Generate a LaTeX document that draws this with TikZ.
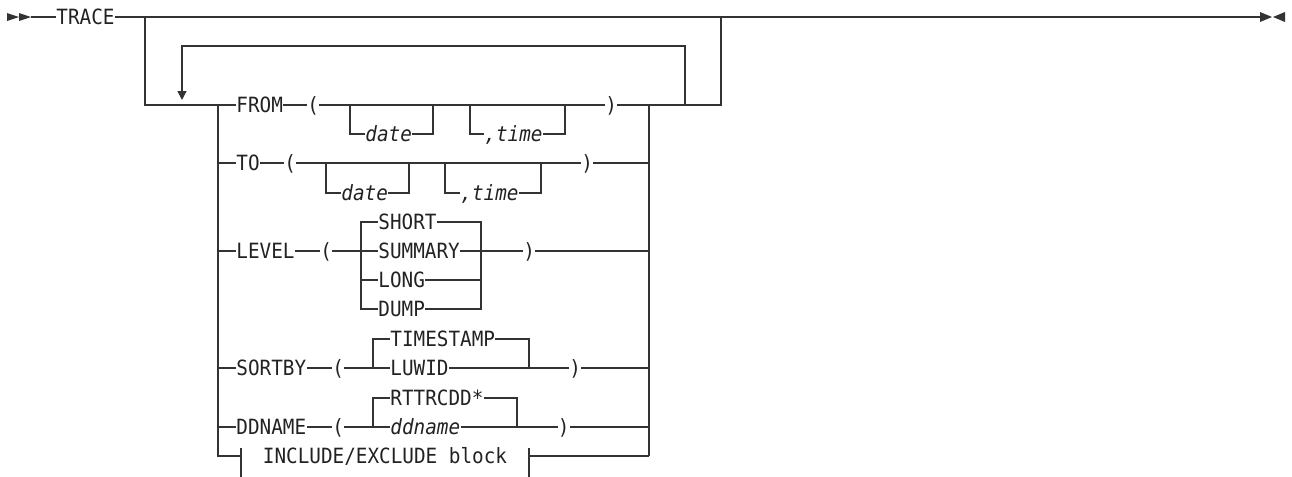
\documentclass[tikz,border=0pt]{standalone}
\usepackage{fontspec}
\setmonofont{DejaVu Sans Mono}[FakeStretch=0.92]
\usetikzlibrary{arrows.meta}
\definecolor{railgray}{HTML}{333333}
\definecolor{railtext}{HTML}{222222}
\tikzset{
  rail/.style={draw=railgray,line width=0.65pt},
  kw/.style={font=\ttfamily\fontsize{10.5pt}{12pt}\selectfont,text=railtext,
             inner sep=0pt,text height=7.6pt,text depth=0pt,anchor=west},
  var/.style={kw,font=\ttfamily\itshape\fontsize{10.5pt}{12pt}\selectfont},
}
\begin{document}
\begin{tikzpicture}[x=0.5pt,y=-0.5pt]
        \useasboundingbox (0,0) rectangle (1292,477);
        % start and end of the statement
        \fill[railgray] (7,13) -- (19,17) -- (7,21) -- cycle;
        \fill[railgray] (19,13) -- (31,17) -- (19,21) -- cycle;
        \coordinate (start) at (31,17);
        \node[kw] (trace) at (56,17) {TRACE};
        \coordinate (stop) at (1260,17);
        \fill[railgray] (1260,12) -- (1272,17) -- (1260,22) -- cycle;
        \fill[railgray] (1285,12) -- (1273,17) -- (1285,22) -- cycle;
        \draw[rail] (start) -- (trace.west);
        \draw[rail] (trace.east) -- (stop);
        % branch off the main line and the stack rails
        \coordinate (jin) at (145,17);
        \coordinate (jout) at (721,17);
        \coordinate (sl) at (218,105);
        \coordinate (sr) at (649,105);
        \coordinate (srend) at (649,456);
        \draw[rail] (jin) |- (sl);
        \draw[rail] (sr) -| (jout);
        \draw[rail] (sr) -- (srend);
        % repeat loop
        \coordinate (loopr) at (685,105);
        \coordinate (looptop) at (182,46);
        \coordinate (loopl) at (182,100);
        \draw[rail,-{Triangle[width=4.5pt,length=4.5pt]}] (loopr) |- (looptop) -- (loopl);
        % FROM
        \node[kw] (from) at (236,105) {FROM};
        \node[kw] (fromlp) at (307,105) {(};
        \node[var] (fromdate) at (365,134) {date};
        \node[var] (fromtime) at (484,134) {,time};
        \node[kw] (fromrp) at (605,105) {)};
        \coordinate (fd1) at (350,105);
        \coordinate (fd2) at (433,105);
        \coordinate (ft1) at (470,105);
        \coordinate (ft2) at (565,105);
        \draw[rail] (sl) -- (from.west);
        \draw[rail] (from.east) -- (fromlp.west);
        \draw[rail] (fromlp.east) -- (fromrp.west);
        \draw[rail] (fromrp.east) -- (sr);
        \draw[rail] (fd1) |- (fromdate.west);
        \draw[rail] (fromdate.east) -| (fd2);
        \draw[rail] (ft1) |- (fromtime.west);
        \draw[rail] (fromtime.east) -| (ft2);
        % TO
        \node[kw] (to) at (236,163) {TO};
        \node[kw] (tolp) at (284,163) {(};
        \node[var] (todate) at (341,193) {date};
        \node[var] (totime) at (460,193) {,time};
        \node[kw] (torp) at (581,163) {)};
        \coordinate (td1) at (326,163);
        \coordinate (td2) at (409,163);
        \coordinate (tt1) at (445,163);
        \coordinate (tt2) at (541,163);
        \draw[rail] (to.west -| sl) -- (to.west);
        \draw[rail] (to.east) -- (tolp.west);
        \draw[rail] (tolp.east) -- (torp.west);
        \draw[rail] (torp.east) -- (torp.east -| sr);
        \draw[rail] (td1) |- (todate.west);
        \draw[rail] (todate.east) -| (td2);
        \draw[rail] (tt1) |- (totime.west);
        \draw[rail] (totime.east) -| (tt2);
        % LEVEL
        \node[kw] (level) at (236,251) {LEVEL};
        \node[kw] (levellp) at (320,251) {(};
        \node[kw] (short) at (378,222) {SHORT};
        \node[kw] (summary) at (378,251) {SUMMARY};
        \node[kw] (long) at (378,280) {LONG};
        \node[kw] (dump) at (378,309) {DUMP};
        \node[kw] (levelrp) at (523,251) {)};
        \coordinate (lvl) at (361,222);
        \coordinate (lvr) at (481,222);
        \draw[rail] (level.west -| sl) -- (level.west);
        \draw[rail] (level.east) -- (levellp.west);
        \draw[rail] (levellp.east) -- (summary.west);
        \draw[rail] (summary.east) -- (levelrp.west);
        \draw[rail] (levelrp.east) -- (levelrp.east -| sr);
        \draw[rail] (short.west) -- (lvl) |- (dump.west);
        \draw[rail] (long.west -| lvl) -- (long.west);
        \draw[rail] (short.east) -- (lvr) |- (dump.east);
        \draw[rail] (long.east) -- (long.east -| lvr);
        % SORTBY
        \node[kw] (sortby) at (236,368) {SORTBY};
        \node[kw] (sortlp) at (332,368) {(};
        \node[kw] (tstamp) at (390,339) {TIMESTAMP};
        \node[kw] (luwid) at (390,368) {LUWID};
        \node[kw] (sortrp) at (569,368) {)};
        \coordinate (stl) at (373,339);
        \coordinate (str) at (529,339);
        \draw[rail] (sortby.west -| sl) -- (sortby.west);
        \draw[rail] (sortby.east) -- (sortlp.west);
        \draw[rail] (sortlp.east) -- (luwid.west);
        \draw[rail] (luwid.east) -- (sortrp.west);
        \draw[rail] (sortrp.east) -- (sortrp.east -| sr);
        \draw[rail] (tstamp.west) -- (stl) -- (stl |- luwid.west);
        \draw[rail] (tstamp.east) -- (str) -- (str |- luwid.east);
        % DDNAME
        \node[kw] (ddname) at (236,427) {DDNAME};
        \node[kw] (ddlp) at (332,427) {(};
        \node[kw] (rttr) at (390,398) {RTTRCDD*};
        \node[var] (ddvar) at (390,427) {ddname};
        \node[kw] (ddrp) at (557.5,427) {)};
        \coordinate (ddl) at (373,398);
        \coordinate (ddr) at (517,398);
        \draw[rail] (ddname.west -| sl) -- (ddname.west);
        \draw[rail] (ddname.east) -- (ddlp.west);
        \draw[rail] (ddlp.east) -- (ddvar.west);
        \draw[rail] (ddvar.east) -- (ddrp.west);
        \draw[rail] (ddrp.east) -- (ddrp.east -| sr);
        \draw[rail] (rttr.west) -- (ddl) -- (ddl |- ddvar.west);
        \draw[rail] (rttr.east) -- (ddr) -- (ddr |- ddvar.east);
        % INCLUDE/EXCLUDE block
        \node[kw,anchor=center] (incl) at (385,456) {INCLUDE/EXCLUDE block};
        \coordinate (incl1) at (241,456);
        \coordinate (incl2) at (529,456);
        \draw[rail] (sl) |- (incl1);
        \draw[rail] (241,448) -- (241,477);
        \draw[rail] (529,448) -- (529,477);
        \draw[rail] (incl2) -- (srend);
      \end{tikzpicture}
\end{document}
